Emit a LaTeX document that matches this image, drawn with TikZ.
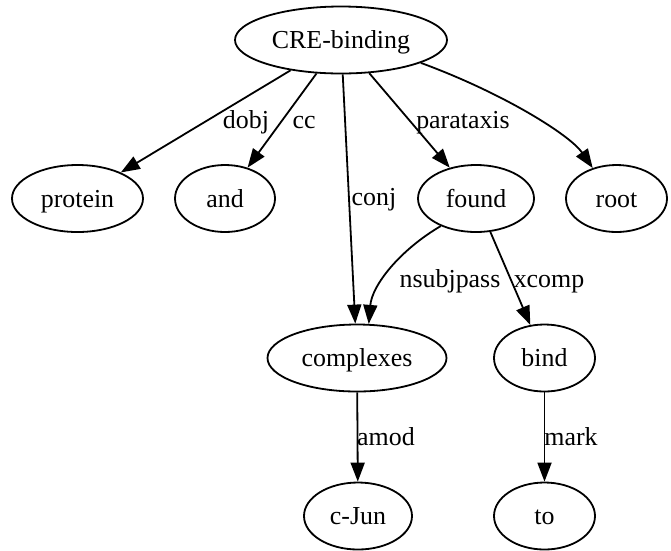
\documentclass[tikz,border=0pt]{standalone}
\usepackage{fontspec}
\setmainfont{Liberation Serif}
\usetikzlibrary{shapes.geometric,arrows.meta}
\begin{document}
\begin{tikzpicture}[x=1pt,y=-1pt,
  every node/.style={font=\fontsize{25.9}{31}\selectfont},
  wnode/.style={draw, ellipse, line width=1.8pt, inner sep=0pt,
    minimum height=67pt, text height=17pt, text depth=0pt},
  lbl/.style={anchor=base, inner sep=0pt},
  edge/.style={line width=1.8pt, -{Triangle[length=19pt,width=14pt]}}]
\useasboundingbox (0,0) rectangle (671,550);
\node[wnode, minimum width=212pt] (cre) at (341,40) {CRE-binding};
\node[wnode, minimum width=131pt] (protein) at (77.5,198.5) {protein};
\node[wnode, minimum width=100pt] (and) at (225,198.5) {and};
\node[wnode, minimum width=116pt] (found) at (476,198.5) {found};
\node[wnode, minimum width=101pt] (root) at (616.5,198.5) {root};
\node[wnode, minimum width=179pt] (complexes) at (357,358) {complexes};
\node[wnode, minimum width=101pt] (bind) at (544.5,358) {bind};
\node[wnode, minimum width=108pt] (cjun) at (358,516) {c-Jun};
\node[wnode, minimum width=101pt] (to) at (544.5,516) {to};

\draw[edge] (cre) -- (protein);
\draw[edge] (cre) -- (and);
\draw[edge] (cre) -- (complexes);
\draw[edge] (cre) -- (found);
\draw[edge] (cre.-16) .. controls (503,93) and (570,135) .. (root.128.8);
\draw[edge] (found.218.4) .. controls (400,250) and (372,285) .. (complexes.71.6);
\draw[edge] (found) -- (bind);
\draw[edge] (complexes) -- (cjun);
\draw[edge] (bind) -- (to);

\node[lbl] (l1) at (246,128) {dobj};
\node[lbl] (l2) at (304,128) {cc};
\node[lbl] (l3) at (463,128) {parataxis};
\node[lbl] (l4) at (374,205) {conj};
\node[lbl] (l5) at (450,287) {nsubjpass};
\node[lbl] (l6) at (549,287) {xcomp};
\node[lbl] (l7) at (386,445) {amod};
\node[lbl] (l8) at (571,445) {mark};
\end{tikzpicture}
\end{document}
